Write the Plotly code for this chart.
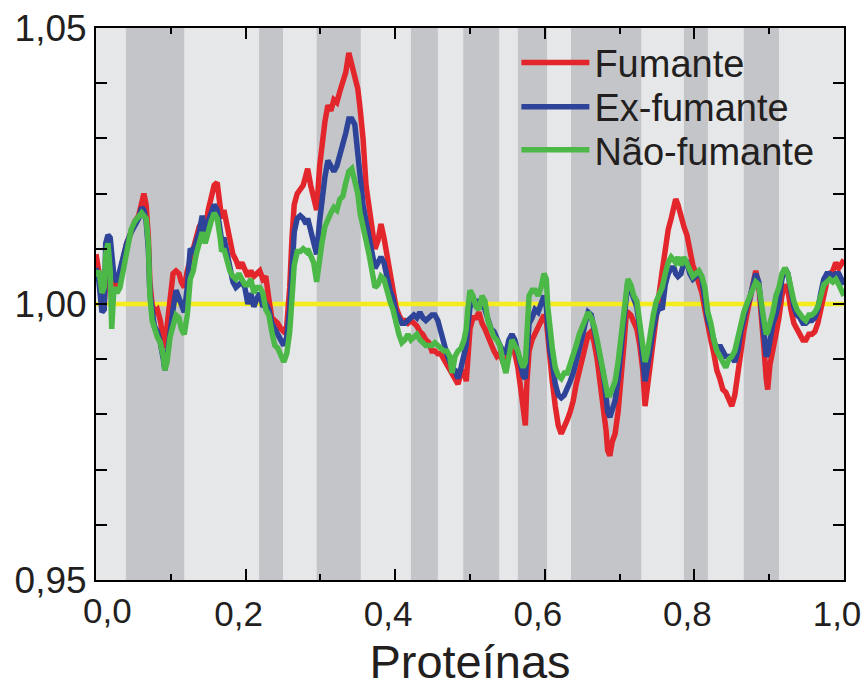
import plotly.graph_objects as go

# Position along the protein list (fraction)
x_pos = [
    0.000, 0.004, 0.008, 0.011, 0.013, 0.016, 0.019, 0.021, 0.024, 0.028,
    0.032, 0.036, 0.041, 0.047, 0.052, 0.057, 0.061, 0.064, 0.067, 0.070,
    0.072, 0.075, 0.078, 0.082, 0.086, 0.090, 0.092, 0.095, 0.099, 0.103,
    0.107, 0.111, 0.114, 0.118, 0.122, 0.126, 0.130, 0.134, 0.138, 0.142,
    0.146, 0.150, 0.154, 0.158, 0.162, 0.166, 0.168, 0.171, 0.175, 0.179,
    0.183, 0.187, 0.191, 0.195, 0.199, 0.203, 0.207, 0.211, 0.215, 0.219,
    0.223, 0.227, 0.231, 0.235, 0.239, 0.243, 0.247, 0.251, 0.255, 0.259,
    0.262, 0.265, 0.269, 0.273, 0.277, 0.281, 0.283, 0.287, 0.291, 0.295,
    0.299, 0.302, 0.306, 0.310, 0.314, 0.318, 0.322, 0.326, 0.330, 0.334,
    0.338, 0.342, 0.346, 0.350, 0.353, 0.357, 0.361, 0.365, 0.369, 0.373,
    0.377, 0.381, 0.385, 0.389, 0.393, 0.397, 0.401, 0.405, 0.409, 0.413,
    0.417, 0.421, 0.425, 0.429, 0.433, 0.437, 0.441, 0.445, 0.449, 0.453,
    0.457, 0.461, 0.465, 0.469, 0.473, 0.476, 0.480, 0.484, 0.488, 0.492,
    0.495, 0.497, 0.500, 0.504, 0.508, 0.512, 0.516, 0.520, 0.524, 0.528,
    0.532, 0.536, 0.540, 0.544, 0.548, 0.552, 0.556, 0.560, 0.564, 0.568,
    0.571, 0.574, 0.576, 0.579, 0.583, 0.587, 0.591, 0.595, 0.599, 0.602,
    0.604, 0.607, 0.610, 0.614, 0.618, 0.622, 0.626, 0.630, 0.634, 0.638,
    0.642, 0.646, 0.650, 0.654, 0.658, 0.662, 0.666, 0.670, 0.674, 0.678,
    0.682, 0.684, 0.687, 0.690, 0.694, 0.698, 0.702, 0.706, 0.709, 0.711,
    0.715, 0.719, 0.723, 0.727, 0.731, 0.734, 0.737, 0.741, 0.745, 0.749,
    0.753, 0.757, 0.761, 0.765, 0.769, 0.773, 0.775, 0.778, 0.782, 0.786,
    0.790, 0.794, 0.798, 0.802, 0.806, 0.810, 0.814, 0.818, 0.822, 0.826,
    0.830, 0.834, 0.838, 0.842, 0.846, 0.850, 0.854, 0.858, 0.862, 0.866,
    0.870, 0.874, 0.878, 0.882, 0.886, 0.890, 0.893, 0.896, 0.898, 0.901,
    0.905, 0.909, 0.913, 0.917, 0.921, 0.925, 0.929, 0.933, 0.937, 0.941,
    0.945, 0.949, 0.953, 0.957, 0.961, 0.965, 0.969, 0.973, 0.977, 0.981,
    0.985, 0.989, 0.993, 1.000,
]

fumante = [
    1.0090, 1.0060, 1.0030, 1.0000, 1.0040, 1.0120, 1.0100, 1.0070, 1.0040, 1.0030,
    1.0050, 1.0080, 1.0110, 1.0130, 1.0150, 1.0160, 1.0190, 1.0200, 1.0180, 1.0120,
    1.0040, 1.0000, 0.9985, 0.9990, 0.9970, 0.9930, 0.9920, 0.9960, 1.0010, 1.0055,
    1.0060, 1.0055, 1.0040, 1.0030, 1.0060, 1.0080, 1.0100, 1.0120, 1.0140, 1.0150,
    1.0130, 1.0170, 1.0190, 1.0215, 1.0220, 1.0180, 1.0155, 1.0170, 1.0140, 1.0110,
    1.0090, 1.0080, 1.0065, 1.0075, 1.0060, 1.0050, 1.0060, 1.0050, 1.0055, 1.0060,
    1.0045, 1.0050, 1.0010, 0.9975, 0.9970, 0.9965, 0.9955, 0.9950, 0.9960, 1.0030,
    1.0120, 1.0180, 1.0200, 1.0210, 1.0215, 1.0235, 1.0245, 1.0215, 1.0190, 1.0170,
    1.0250, 1.0290, 1.0330, 1.0360, 1.0350, 1.0370, 1.0365, 1.0385, 1.0400, 1.0420,
    1.0455, 1.0435, 1.0410, 1.0390, 1.0355, 1.0300, 1.0215, 1.0170, 1.0125, 1.0100,
    1.0115, 1.0145, 1.0120, 1.0085, 1.0065, 1.0030, 0.9995, 0.9980, 0.9970, 0.9970,
    0.9965, 0.9970, 0.9965, 0.9960, 0.9950, 0.9945, 0.9935, 0.9930, 0.9915, 0.9915,
    0.9910, 0.9910, 0.9900, 0.9890, 0.9880, 0.9875, 0.9865, 0.9855, 0.9875, 0.9880,
    0.9860, 0.9915, 0.9955, 0.9975, 0.9975, 0.9985, 0.9965, 0.9955, 0.9940, 0.9925,
    0.9915, 0.9905, 0.9910, 0.9895, 0.9900, 0.9910, 0.9925, 0.9910, 0.9885, 0.9845,
    0.9800, 0.9780, 0.9855, 0.9915, 0.9935, 0.9945, 0.9955, 0.9965, 0.9980, 0.9970,
    0.9935, 0.9895, 0.9860, 0.9815, 0.9780, 0.9765, 0.9775, 0.9790, 0.9805, 0.9825,
    0.9855, 0.9880, 0.9900, 0.9920, 0.9945, 0.9950, 0.9930, 0.9900, 0.9860, 0.9820,
    0.9770, 0.9735, 0.9725, 0.9750, 0.9765, 0.9805, 0.9860, 0.9930, 0.9985, 0.9985,
    0.9980, 0.9965, 0.9955, 0.9925, 0.9880, 0.9815, 0.9850, 0.9900, 0.9945, 0.9980,
    1.0020, 1.0060, 1.0105, 1.0135, 1.0155, 1.0175, 1.0190, 1.0180, 1.0155, 1.0140,
    1.0125, 1.0095, 1.0070, 1.0055, 1.0040, 1.0020, 0.9990, 0.9955, 0.9935, 0.9910,
    0.9880, 0.9865, 0.9845, 0.9840, 0.9825, 0.9815, 0.9835, 0.9880, 0.9920, 0.9950,
    0.9980, 1.0010, 1.0040, 1.0060, 1.0035, 0.9980, 0.9920, 0.9865, 0.9845, 0.9890,
    0.9925, 0.9945, 0.9975, 1.0015, 1.0035, 1.0025, 0.9990, 0.9965, 0.9955, 0.9945,
    0.9935, 0.9935, 0.9945, 0.9945, 0.9950, 0.9965, 0.9990, 1.0020, 1.0040, 1.0055,
    1.0060, 1.0075, 1.0065, 1.0080,
]

ex_fumante = [
    1.0065, 1.0040, 0.9985, 0.9990, 1.0110, 1.0125, 1.0120, 1.0080, 1.0050, 1.0040,
    1.0060, 1.0080, 1.0110, 1.0130, 1.0145, 1.0155, 1.0175, 1.0170, 1.0150, 1.0100,
    1.0020, 0.9980, 0.9960, 0.9950, 0.9930, 0.9900, 0.9880, 0.9905, 0.9960, 0.9990,
    1.0025, 1.0010, 1.0000, 0.9985, 1.0030, 1.0100, 1.0095, 1.0110, 1.0130, 1.0160,
    1.0125, 1.0150, 1.0165, 1.0180, 1.0170, 1.0135, 1.0115, 1.0120, 1.0090, 1.0065,
    1.0040, 1.0030, 1.0035, 1.0040, 1.0030, 1.0000, 1.0020, 0.9995, 1.0010, 1.0020,
    0.9995, 1.0000, 0.9990, 0.9965, 0.9955, 0.9945, 0.9930, 0.9925, 0.9940, 0.9990,
    1.0060, 1.0130, 1.0155, 1.0160, 1.0155, 1.0145, 1.0155, 1.0130, 1.0110, 1.0090,
    1.0150, 1.0190, 1.0230, 1.0260, 1.0250, 1.0240, 1.0250, 1.0270, 1.0285, 1.0310,
    1.0335, 1.0335, 1.0325, 1.0270, 1.0220, 1.0180, 1.0150, 1.0125, 1.0090, 1.0065,
    1.0075, 1.0085, 1.0075, 1.0045, 1.0025, 1.0010, 0.9985, 0.9975, 0.9965, 0.9965,
    0.9970, 0.9975, 0.9980, 0.9975, 0.9985, 0.9975, 0.9970, 0.9975, 0.9980, 0.9980,
    0.9970, 0.9950, 0.9925, 0.9910, 0.9895, 0.9885, 0.9880, 0.9865, 0.9885, 0.9905,
    0.9925, 0.9960, 0.9995, 1.0005, 1.0005, 1.0005, 1.0005, 0.9990, 0.9970, 0.9955,
    0.9950, 0.9935, 0.9925, 0.9915, 0.9910, 0.9935, 0.9945, 0.9935, 0.9910, 0.9885,
    0.9870, 0.9865, 0.9920, 0.9965, 0.9975, 0.9990, 0.9985, 1.0000, 1.0015, 0.9995,
    0.9955, 0.9915, 0.9895, 0.9855, 0.9835, 0.9830, 0.9835, 0.9845, 0.9860, 0.9875,
    0.9895, 0.9920, 0.9940, 0.9965, 0.9985, 0.9980, 0.9955, 0.9935, 0.9905, 0.9875,
    0.9830, 0.9805, 0.9795, 0.9810, 0.9825, 0.9865, 0.9925, 0.9985, 1.0030, 1.0040,
    1.0025, 1.0010, 0.9995, 0.9955, 0.9895, 0.9860, 0.9885, 0.9930, 0.9955, 0.9980,
    0.9995, 0.9990, 1.0035, 1.0055, 1.0065, 1.0065, 1.0055, 1.0050, 1.0055, 1.0075,
    1.0075, 1.0055, 1.0045, 1.0050, 1.0060, 1.0045, 1.0010, 0.9970, 0.9955, 0.9935,
    0.9915, 0.9925, 0.9915, 0.9905, 0.9905, 0.9905, 0.9895, 0.9915, 0.9950, 0.9975,
    0.9995, 1.0010, 1.0035, 1.0055, 1.0040, 0.9990, 0.9935, 0.9905, 0.9910, 0.9935,
    0.9965, 0.9980, 1.0005, 1.0045, 1.0065, 1.0055, 1.0020, 0.9995, 0.9980, 0.9975,
    0.9965, 0.9965, 0.9970, 0.9970, 0.9975, 0.9990, 1.0020, 1.0045, 1.0055, 1.0055,
    1.0050, 1.0055, 1.0055, 1.0035,
]

nao_fumante = [
    1.0050, 1.0060, 1.0020, 1.0030, 1.0090, 1.0110, 1.0060, 0.9955, 1.0030, 1.0020,
    1.0030, 1.0060, 1.0100, 1.0135, 1.0150, 1.0160, 1.0165, 1.0160, 1.0155, 1.0110,
    1.0015, 0.9970, 0.9955, 0.9940, 0.9930, 0.9905, 0.9880, 0.9895, 0.9940, 0.9965,
    0.9980, 0.9975, 0.9955, 0.9945, 0.9980, 1.0045, 1.0060, 1.0090, 1.0110, 1.0130,
    1.0110, 1.0135, 1.0150, 1.0165, 1.0155, 1.0120, 1.0095, 1.0100, 1.0080, 1.0060,
    1.0050, 1.0045, 1.0055, 1.0045, 1.0035, 1.0035, 1.0045, 1.0020, 1.0030, 1.0030,
    1.0020, 0.9990, 0.9980, 0.9950, 0.9925, 0.9920, 0.9905, 0.9895, 0.9910, 0.9950,
    1.0010, 1.0070, 1.0095, 1.0095, 1.0100, 1.0095, 1.0100, 1.0090, 1.0075, 1.0040,
    1.0090, 1.0110, 1.0140, 1.0155, 1.0165, 1.0175, 1.0170, 1.0190, 1.0195, 1.0220,
    1.0240, 1.0245, 1.0225, 1.0200, 1.0165, 1.0135, 1.0115, 1.0090, 1.0055, 1.0030,
    1.0035, 1.0050, 1.0045, 1.0020, 1.0005, 0.9990, 0.9965, 0.9945, 0.9930, 0.9935,
    0.9945, 0.9935, 0.9940, 0.9945, 0.9935, 0.9930, 0.9925, 0.9925, 0.9925, 0.9930,
    0.9925, 0.9920, 0.9915, 0.9915, 0.9905, 0.9875, 0.9905, 0.9915, 0.9920, 0.9935,
    0.9955, 0.9990, 1.0025, 1.0015, 0.9995, 0.9990, 1.0015, 1.0005, 0.9970, 0.9955,
    0.9940, 0.9935, 0.9925, 0.9895, 0.9875, 0.9905, 0.9935, 0.9925, 0.9915, 0.9895,
    0.9885, 0.9895, 0.9960, 1.0015, 1.0025, 1.0025, 1.0015, 1.0030, 1.0055, 1.0045,
    0.9995, 0.9945, 0.9920, 0.9885, 0.9870, 0.9865, 0.9875, 0.9875, 0.9890, 0.9905,
    0.9925, 0.9945, 0.9960, 0.9970, 0.9985, 0.9975, 0.9960, 0.9935, 0.9905, 0.9880,
    0.9850, 0.9835, 0.9835, 0.9845, 0.9860, 0.9895, 0.9945, 1.0005, 1.0040, 1.0045,
    1.0035, 1.0015, 1.0005, 0.9965, 0.9915, 0.9895, 0.9910, 0.9950, 0.9980, 1.0005,
    1.0015, 1.0030, 1.0055, 1.0075, 1.0085, 1.0080, 1.0075, 1.0085, 1.0070, 1.0085,
    1.0075, 1.0065, 1.0050, 1.0055, 1.0060, 1.0050, 1.0030, 0.9985, 0.9965, 0.9935,
    0.9915, 0.9905, 0.9895, 0.9885, 0.9900, 0.9905, 0.9915, 0.9940, 0.9965, 0.9985,
    1.0000, 1.0015, 1.0030, 1.0040, 1.0035, 1.0005, 0.9970, 0.9945, 0.9950, 0.9965,
    0.9985, 1.0015, 1.0030, 1.0055, 1.0065, 1.0055, 1.0025, 1.0005, 0.9990, 0.9980,
    0.9975, 0.9970, 0.9980, 0.9980, 0.9985, 0.9995, 1.0015, 1.0035, 1.0040, 1.0045,
    1.0040, 1.0045, 1.0035, 1.0015,
]

# Shaded (darker) protein groups: start / end along the x axis
band_start = [0.040, 0.218, 0.295, 0.421, 0.491, 0.564, 0.635, 0.786, 0.866]
band_end = [0.118, 0.250, 0.354, 0.457, 0.539, 0.603, 0.729, 0.818, 0.913]

reference_level = 1.0

x_ticks = [0.0, 0.2, 0.4, 0.6, 0.8, 1.0]
x_tick_labels = ["0,0", "0,2", "0,4", "0,6", "0,8", "1,0"]
y_ticks = [0.95, 1.00, 1.05]
y_tick_labels = ["0,95", "1,00", "1,05"]

series_names = ["Fumante", "Ex-fumante", "Não-fumante"]
series_colors = ["#e3262b", "#2d4499", "#4cb848"]
legend_ids = ["legend", "legend2", "legend3"]
legend_rows_y = [0.937, 0.857, 0.779]   # vertical centre of each legend row (paper)

FONT = "Liberation Sans, Arial, Helvetica, sans-serif"

fig = go.Figure()

for s, e in zip(band_start, band_end):
    fig.add_vrect(x0=s, x1=e, fillcolor="#c4c5c9", line_width=0, layer="below")

fig.add_trace(go.Scatter(
    x=[0, 1], y=[reference_level, reference_level], mode="lines",
    line=dict(color="#f4ec1c", width=4.5), showlegend=False, hoverinfo="skip"))

for name, ys, col, lg in zip(series_names, [fumante, ex_fumante, nao_fumante], series_colors, legend_ids):
    fig.add_trace(go.Scatter(x=x_pos, y=ys, mode="lines", name=name, legend=lg,
                             line=dict(color=col, width=5.5)))

# first x label is set slightly right of its tick (as in the original); others via the axis
shown_x_text = [""] + x_tick_labels[1:]
fig.add_annotation(x=x_ticks[0], y=0, xref="x", yref="paper", text=x_tick_labels[0],
                   showarrow=False, xanchor="center", yanchor="top",
                   xshift=11, yshift=-9, font=dict(size=35))

legend_style = dict(x=0.562, xanchor="left", yanchor="middle",
                    bgcolor="rgba(0,0,0,0)", borderwidth=0, itemwidth=68,
                    font=dict(size=38, family=FONT, color="#231f20"))

fig.update_layout(
    width=864, height=688,
    margin=dict(l=96, r=20, t=28, b=108),
    paper_bgcolor="white",
    plot_bgcolor="#e6e7e9",
    separators=",.",
    font=dict(family=FONT, color="#231f20", size=36),
    legend=dict(y=legend_rows_y[0], **legend_style),
    legend2=dict(y=legend_rows_y[1], **legend_style),
    legend3=dict(y=legend_rows_y[2], **legend_style),
    showlegend=True,
)

fig.update_xaxes(
    range=[0, 1], tickvals=x_ticks, ticktext=shown_x_text,
    showgrid=False, zeroline=False, automargin=False,
    showline=True, linecolor="black", linewidth=2, mirror="ticks",
    ticks="inside", ticklen=11, tickwidth=2, tickcolor="black",
    minor=dict(dtick=0.1, ticks="inside", ticklen=6, tickwidth=2, tickcolor="black", showgrid=False),
    tickfont=dict(size=35), ticklabelshift=-7, ticklabelstandoff=2,
    title=dict(text="Proteínas", font=dict(size=47), standoff=14),
)
fig.update_yaxes(
    range=[0.95, 1.05], tickvals=y_ticks, ticktext=y_tick_labels,
    showgrid=False, zeroline=False, automargin=False,
    showline=True, linecolor="black", linewidth=2, mirror="ticks",
    ticks="inside", ticklen=11, tickwidth=2, tickcolor="black",
    minor=dict(dtick=0.01, ticks="inside", ticklen=11, tickwidth=2, tickcolor="black", showgrid=False),
    tickfont=dict(size=37),
)

fig.write_html("out.html")
